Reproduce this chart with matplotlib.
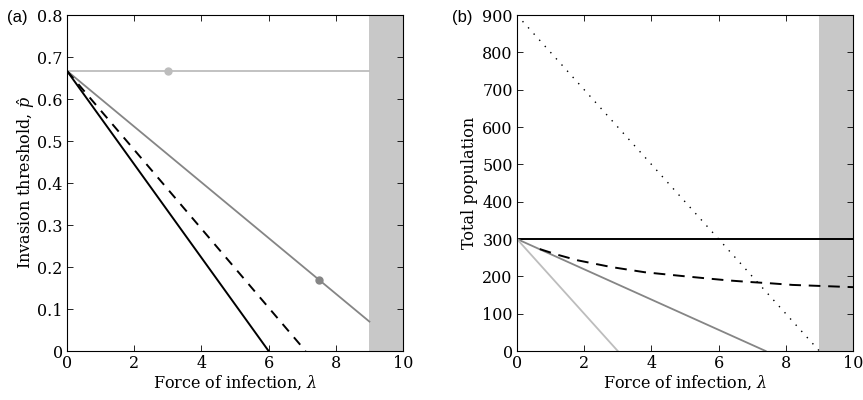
import matplotlib
matplotlib.use("Agg")
import matplotlib.pyplot as plt

plt.rcParams['font.family'] = ['DejaVu Serif']
plt.rcParams['mathtext.fontset'] = 'dejavuserif'

# Panel (a)
a_lightgray_x = [0, 9]
a_lightgray_y = [0.667, 0.667]
a_lightgray_marker = (3, 0.667)
a_gray_x = [0, 9]
a_gray_y = [0.667, 0.07]
a_gray_marker = (7.5, 0.17)
a_black_x = [0, 6]
a_black_y = [0.667, 0.0]
a_dashed_x = [0, 7.1]
a_dashed_y = [0.667, 0.0]

# Panel (b)
b_dotted_x = [0, 9]
b_dotted_y = [900, 0]
b_black_x = [0, 10]
b_black_y = [300, 300]
b_dashed_x = [0.68, 1.2, 1.8, 2.8, 3.8, 4.9, 5.7, 6.3, 6.9, 7.6, 8.2, 8.8, 9.4, 10]
b_dashed_y = [273, 258, 243, 225, 211, 201, 194, 189, 185, 181, 177, 175, 173, 171]
b_gray_x = [0, 7.4]
b_gray_y = [300, 0]
b_lightgray_x = [0, 3]
b_lightgray_y = [300, 0]

shade = (9, 10)

fig = plt.figure(figsize=(8.63, 4.0), dpi=100)
ax1 = fig.add_axes([0.0776, 0.1225, 0.3894, 0.84])
ax2 = fig.add_axes([0.599, 0.1225, 0.3894, 0.84])

FS = 11.5
LIGHT = '#bdbdbd'
GRAY = '#858585'
SHADE = '#c8c8c8'

for ax in (ax1, ax2):
    ax.axvspan(shade[0], shade[1], color=SHADE, lw=0, zorder=0)
    ax.set_xlim(0, 10)
    ax.set_xticks([0, 2, 4, 6, 8, 10])
    ax.tick_params(direction='in', top=True, right=True, labelsize=FS, length=4, width=0.6, pad=3)
    for s in ax.spines.values():
        s.set_linewidth(0.8)
    ax.set_xlabel(r'Force of infection, $\lambda$', fontsize=FS, labelpad=1)

ax1.plot(a_lightgray_x, a_lightgray_y, color=LIGHT, lw=1.3)
ax1.plot(*a_lightgray_marker, 'o', color=LIGHT, ms=5)
ax1.plot(a_gray_x, a_gray_y, color=GRAY, lw=1.3)
ax1.plot(*a_gray_marker, 'o', color=GRAY, ms=5)
ax1.plot(a_black_x, a_black_y, color='black', lw=1.4)
ax1.plot(a_dashed_x, a_dashed_y, color='black', lw=1.4, ls=(0, (5, 4)))
ax1.set_ylim(0, 0.8)
ax1.set_yticks([0, 0.1, 0.2, 0.3, 0.4, 0.5, 0.6, 0.7, 0.8])
ax1.set_yticklabels(['0', '0.1', '0.2', '0.3', '0.4', '0.5', '0.6', '0.7', '0.8'])
ax1.set_ylabel(r'Invasion threshold, $\hat{p}$', fontsize=FS, labelpad=0)

ax2.plot(b_dotted_x, b_dotted_y, color='black', lw=1.0, ls=(0, (1, 5)))
ax2.plot(b_black_x, b_black_y, color='black', lw=1.4)
ax2.plot(b_gray_x, b_gray_y, color=GRAY, lw=1.3)
ax2.plot(b_lightgray_x, b_lightgray_y, color=LIGHT, lw=1.3)
ax2.plot(b_dashed_x, b_dashed_y, color='black', lw=1.4, ls=(0, (6, 4)))
ax2.set_ylim(0, 900)
ax2.set_yticks(range(0, 901, 100))
ax2.set_ylabel('Total population', fontsize=FS, labelpad=3)

fig.text(0.008, 0.957, '(a)', fontsize=12, family=['Liberation Sans', 'DejaVu Sans'], va='center')
fig.text(0.524, 0.957, '(b)', fontsize=12, family=['Liberation Sans', 'DejaVu Sans'], va='center')

fig.savefig('out.png', dpi=100)
